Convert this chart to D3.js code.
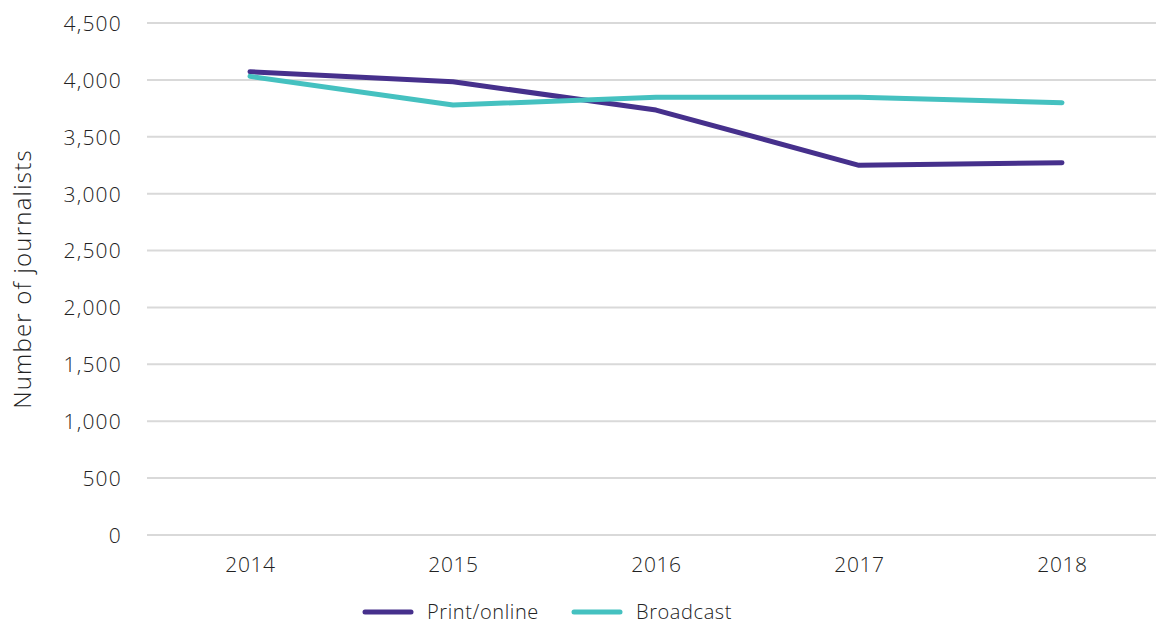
<!DOCTYPE html>
<html><head><meta charset="utf-8">
<script src="https://cdn.jsdelivr.net/npm/d3@7"></script>
<style>
body{margin:0;background:#fff;}
text{font-family:"Open Sans","Noto Sans",sans-serif;font-weight:300;fill:#222;}
</style></head>
<body><svg id="c" width="1156" height="625"></svg>
<script>
const years = ["2014","2015","2016","2017","2018"];
const printOnline = [4072, 3984, 3735, 3249, 3272];
const broadcast = [4031, 3779, 3847, 3847, 3800];
const yTicks = [0,500,1000,1500,2000,2500,3000,3500,4000,4500];
const seriesNames = ["Print/online","Broadcast"];
const colors = ["#46308c","#45c1c0"];
const FONT = "'Open Sans', 'Noto Sans', sans-serif";

const svg = d3.select("#c");
const x = d3.scalePoint().domain(years).range([250,1062]);
const y = d3.scaleLinear().domain([0,4500]).range([535,23]);

// gridlines
svg.append("g").selectAll("line").data(yTicks).join("line")
  .attr("x1",147).attr("x2",1156)
  .attr("y1",d=>y(d)).attr("y2",d=>y(d))
  .attr("stroke","#d9d9d9").attr("stroke-width",2);

// y axis labels
const yAxis = d3.axisLeft(y).tickValues(yTicks).tickFormat(d3.format(",")).tickSize(0).tickPadding(0);
const ya = svg.append("g").attr("transform","translate(122,0)").call(yAxis);
ya.select(".domain").remove();
ya.selectAll("text").attr("font-size",21).attr("letter-spacing",1.2).attr("font-family",FONT).attr("font-weight",300).attr("fill","#222").attr("dy","0.35em");

// x axis labels
const xAxis = d3.axisBottom(x).tickSize(0).tickPadding(0);
const xa = svg.append("g").attr("transform","translate(0,556)").call(xAxis);
xa.select(".domain").remove();
xa.selectAll("text").attr("font-size",21).attr("letter-spacing",0.6).attr("font-family",FONT).attr("font-weight",300).attr("fill","#222").attr("dy","0.35em").attr("y",9);

// y title
svg.append("text").attr("transform","translate(31,279) rotate(-90)")
  .attr("text-anchor","middle").attr("font-size",24).attr("letter-spacing",1.2).text("Number of journalists");

const line = d3.line().x((d,i)=>x(years[i])).y(d=>y(d));
[printOnline, broadcast].forEach((s,i)=>{
  svg.append("path").datum(s).attr("d",line).attr("fill","none")
    .attr("stroke",colors[i]).attr("stroke-width",5).attr("stroke-linecap","round").attr("stroke-linejoin","round");
});

// legend
const legX = [365, 574];
seriesNames.forEach((n,i)=>{
  svg.append("line").attr("x1",legX[i]).attr("x2",legX[i]+46).attr("y1",612).attr("y2",612)
    .attr("stroke",colors[i]).attr("stroke-width",5).attr("stroke-linecap","round");
  svg.append("text").attr("x",legX[i]+62).attr("y",612).attr("dy","0.35em").attr("font-size",20).attr("letter-spacing",0.6).text(n);
});
</script></body></html>
